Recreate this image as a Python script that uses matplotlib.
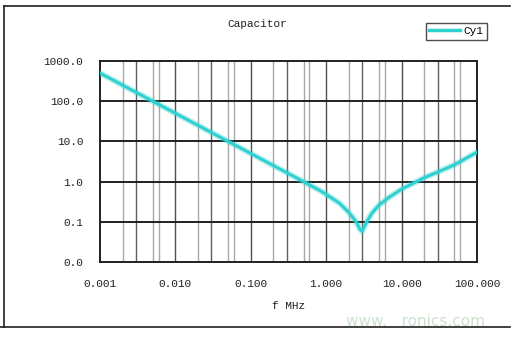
import matplotlib
matplotlib.use("Agg")
import matplotlib.pyplot as plt
from matplotlib.lines import Line2D

# Data
freq_mhz = [0.001, 0.005, 0.01, 0.05, 0.1, 0.5, 0.8, 1.0, 1.5, 2.0, 2.5,
            2.8, 3.0, 3.4, 4.0, 5.0, 7.0, 10.0, 20.0, 50.0, 100.0]
impedance = [500, 100, 50, 10, 5.0, 1.0, 0.62, 0.48, 0.29, 0.17, 0.10,
             0.065, 0.058, 0.095, 0.16, 0.26, 0.42, 0.65, 1.25, 2.6, 5.4]

x_ticks = [0.001, 0.01, 0.1, 1, 10, 100]
x_labels = ["0.001", "0.010", "0.100", "1.000", "10.000", "100.000"]
y_ticks = [0.01, 0.1, 1, 10, 100, 1000]
y_labels = ["0.0", "0.1", "1.0", "10.0", "100.0", "1000.0"]
minor_light = [2, 5, 6]
minor_dark = [3]

FONT = ["Liberation Mono", "DejaVu Sans Mono"]
FS = 8
CYAN = "#2ED0D0"

fig = plt.figure(figsize=(5.24, 3.38), dpi=100)
ax = fig.add_axes([100/524, 1-262/338, 377/524, 201/338])
ax.set_xscale("log")
ax.set_yscale("log")
ax.set_xlim(0.001, 100)
ax.set_ylim(0.01, 1000)

# grid
for dec in [0.001, 0.01, 0.1, 1, 10]:
    for m in minor_light:
        ax.axvline(dec*m, color="#a8a8a8", lw=1.0, zorder=1)
    for m in minor_dark:
        ax.axvline(dec*m, color="#606060", lw=1.0, zorder=1)
for t in x_ticks[1:-1]:
    ax.axvline(t, color="#505050", lw=1.0, zorder=1)
for t in y_ticks[1:-1]:
    ax.axhline(t, color="#202020", lw=1.4, zorder=1)

ax.plot(freq_mhz, impedance, color=CYAN, lw=4.5, alpha=0.3, zorder=3,
        solid_joinstyle="round")
ax.plot(freq_mhz, impedance, color=CYAN, lw=2.2, zorder=4, solid_joinstyle="round")

ax.set_xticks(x_ticks)
ax.set_xticklabels(x_labels)
ax.set_yticks(y_ticks)
ax.set_yticklabels(y_labels)
ax.minorticks_off()
ax.tick_params(axis="both", length=0, labelsize=FS, colors="#202020")
ax.tick_params(axis="x", pad=12)
ax.tick_params(axis="y", pad=12)
for lab in ax.get_xticklabels() + ax.get_yticklabels():
    lab.set_family(FONT)
for s in ax.spines.values():
    s.set_color("#202020")
    s.set_linewidth(1.4)

ax.set_xlabel("f MHz", fontsize=FS, family=FONT, labelpad=9, color="#202020")
fig.text(257/524, 1-24/338, "Capacitor", fontsize=FS, family=FONT,
         ha="center", va="center", color="#202020")

handle = Line2D([], [], color=CYAN, lw=2.5)
leg = fig.legend([handle], ["Cy1"], loc="upper right",
                 bbox_to_anchor=(487/524, 1-23/338), frameon=True,
                 fancybox=False, prop={"family": FONT, "size": FS},
                 handlelength=2.8, handletextpad=0.3, borderpad=0.3,
                 borderaxespad=0)
leg.get_frame().set_edgecolor("#202020")
leg.get_frame().set_linewidth(1.0)

# outer frame lines
fig.add_artist(Line2D([4/524, 4/524], [1-6/338, 1-327/338], color="#202020", lw=1.2))
fig.add_artist(Line2D([4/524, 510/524], [1-6/338, 1-6/338], color="#202020", lw=1.2))
fig.add_artist(Line2D([0, 510/524], [1-327/338, 1-327/338], color="#202020", lw=1.2))

fig.text(415/524, 1-321/338, "www.   ronics.com", fontsize=11, color="#cfe0cf",
         ha="center", va="center", family=["DejaVu Sans"])

fig.savefig("out.png", dpi=100)
